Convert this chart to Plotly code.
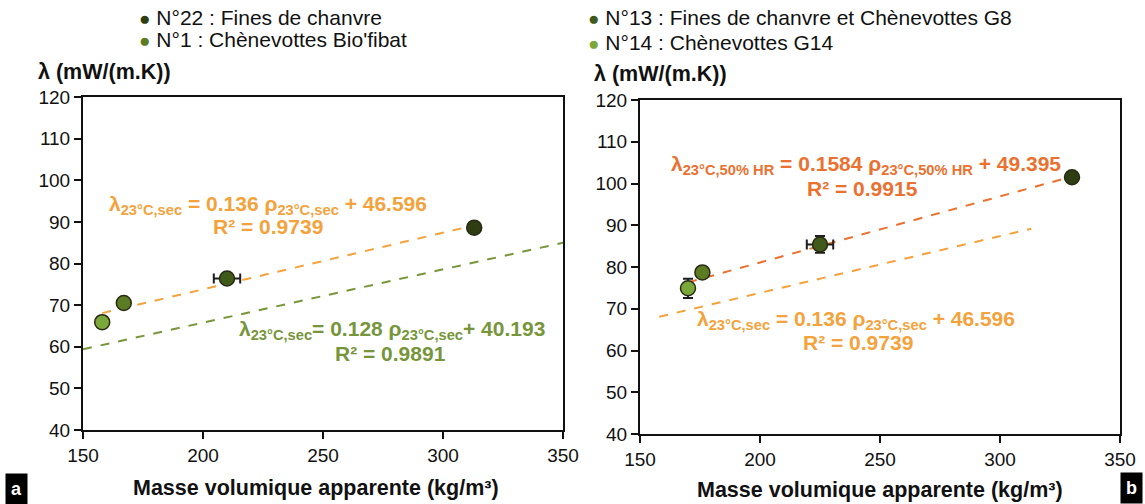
import plotly.graph_objects as go

W, H = 1145, 504

# ---- data ----
samples = ["N°22 : Fines de chanvre", "N°1 : Chènevottes Bio'fibat",
           "N°13 : Fines de chanvre et Chènevottes G8", "N°14 : Chènevottes G14"]
sample_colors = ["#2e3d12", "#5b7c22", "#3f5a19", "#7aa83a"]

# dry state (panel a)
rho_dry = [313, 167, 210, 158]
lam_dry = [88.6, 70.5, 76.4, 65.9]
rho_dry_err = [1.0, 1.0, 5.5, 1.0]
lam_dry_err = [0.5, 0.6, 0.6, 1.3]

# 23°C, 50% HR (panel b)
rho_hr = [330, 176, 225, 170]
lam_hr = [101.5, 78.7, 85.4, 74.9]
rho_hr_err = [1.5, 1.0, 5.5, 1.0]
lam_hr_err = [0.7, 0.8, 2.0, 2.3]

# trend lines (coefficients printed on the chart) and their extents
fit_dry = dict(slope=0.136, intercept=46.596, x=[158, 313])
fit_green = dict(slope=0.128, intercept=40.193, x=[150, 350])
fit_hr = dict(slope=0.1584, intercept=49.395, x=[170, 330])

x_ticks = [150, 200, 250, 300, 350]
y_ticks = [40, 50, 60, 70, 80, 90, 100, 110, 120]

ORANGE_L = "#f4a23c"
ORANGE_D = "#ea7130"
GREEN_T = "#77953a"
FONT = "Liberation Sans, Arial, sans-serif"

def px(x):
    return x / W

def py(y):
    return 1 - y / H

fig = go.Figure()

def line_trace(fit, color, xa, ya):
    xs = fit["x"]
    ys = [fit["slope"] * v + fit["intercept"] for v in xs]
    return go.Scatter(x=xs, y=ys, mode="lines", xaxis=xa, yaxis=ya,
                      line=dict(color=color, width=2, dash="dash"),
                      showlegend=False, hoverinfo="skip")

# panel a lines
fig.add_trace(line_trace(fit_green, GREEN_T, "x", "y"))
fig.add_trace(line_trace(fit_dry, ORANGE_L, "x", "y"))
# panel b lines
fig.add_trace(line_trace(fit_dry, ORANGE_L, "x2", "y2"))
fig.add_trace(line_trace(fit_hr, ORANGE_D, "x2", "y2"))

def pts(i, xs, ys, xe, ye, xa, ya):
    return go.Scatter(
        x=[xs[i]], y=[ys[i]], mode="markers", xaxis=xa, yaxis=ya,
        marker=dict(symbol="circle", size=15, color=sample_colors[i],
                    line=dict(color="#2a2a14", width=1.5)),
        error_x=dict(type="data", array=[xe[i]], color="#1e1e1e", thickness=2, width=5),
        error_y=dict(type="data", array=[ye[i]], color="#1e1e1e", thickness=2, width=5),
        name=samples[i], showlegend=False)

for i in range(4):
    fig.add_trace(pts(i, rho_dry, lam_dry, rho_dry_err, lam_dry_err, "x", "y"))
    fig.add_trace(pts(i, rho_hr, lam_hr, rho_hr_err, lam_hr_err, "x2", "y2"))

axis_common = dict(range=[150, 350], tickvals=x_ticks, showgrid=False, zeroline=False,
                   showline=True, linecolor="#111", linewidth=2, mirror=True,
                   ticks="outside", ticklen=7, tickwidth=2, tickcolor="#111",
                   automargin=False,
                   tickfont=dict(family=FONT, size=19, color="#111"))
yaxis_common = dict(range=[40, 120], tickvals=y_ticks, showgrid=False, zeroline=False,
                    showline=True, linecolor="#111", linewidth=2, mirror=True,
                    ticks="outside", ticklen=7, tickwidth=2, tickcolor="#111",
                    automargin=False,
                    tickfont=dict(family=FONT, size=19, color="#111"))

fig.update_layout(
    width=W, height=H, margin=dict(l=0, r=0, t=0, b=0, autoexpand=False),
    paper_bgcolor="white", plot_bgcolor="white", showlegend=False,
    font=dict(family=FONT, color="#111"),
    xaxis=dict(axis_common, domain=[px(83), px(563)], anchor="y"),
    yaxis=dict(yaxis_common, domain=[py(430), py(97)], anchor="x"),
    xaxis2=dict(axis_common, domain=[px(640), px(1120)], anchor="y2"),
    yaxis2=dict(yaxis_common, domain=[py(434), py(100)], anchor="x2"),
)

anns = []
def ann(text, x, y, size=19, color="#111", bold=False, xanchor="center", **kw):
    if bold:
        text = "<b>" + text + "</b>"
    anns.append(dict(text=text, x=px(x), y=py(y), xref="paper", yref="paper",
                     xanchor=xanchor, yanchor="middle", showarrow=False,
                     font=dict(family=FONT, size=size, color=color), **kw))

# legends
def bullet(i):
    return '<span style="color:%s;font-size:19px">●</span> ' % sample_colors[i]
ann(bullet(0) + samples[0], 137, 18, size=21, xanchor="left")
ann(bullet(1) + samples[1], 137, 40, size=21, xanchor="left")
ann(bullet(2) + samples[2], 586, 18, size=21, xanchor="left")
ann(bullet(3) + samples[3], 586, 42, size=21, xanchor="left")

# axis titles
ann("λ (mW/(m.K))", 36, 72, size=21.5, bold=True, xanchor="left")
ann("λ (mW/(m.K))", 592, 74, size=21.5, bold=True, xanchor="left")
ann("Masse volumique apparente (kg/m³)", 316, 488, size=21.5, bold=True)
ann("Masse volumique apparente (kg/m³)", 880, 490, size=21.5, bold=True)

# equations
ann("λ<sub>23°C,sec</sub> = 0.136 ρ<sub>23°C,sec</sub> + 46.596", 268, 205, size=21, color=ORANGE_L, bold=True)
ann("R² = 0.9739", 268, 227, size=21, color=ORANGE_L, bold=True)
ann("λ<sub>23°C,sec</sub>= 0.128 ρ<sub>23°C,sec</sub>+ 40.193", 392, 330, size=21, color=GREEN_T, bold=True)
ann("R² = 0.9891", 390, 353, size=21, color=GREEN_T, bold=True)
ann("λ<sub>23°C,50% HR</sub> = 0.1584 ρ<sub>23°C,50% HR</sub> + 49.395", 866, 165, size=21, color=ORANGE_D, bold=True)
ann("R² = 0.9915", 862, 188, size=21, color=ORANGE_D, bold=True)
ann("λ<sub>23°C,sec</sub> = 0.136 ρ<sub>23°C,sec</sub> + 46.596", 856, 320, size=21, color=ORANGE_L, bold=True)
ann("R² = 0.9739", 858, 342, size=21, color=ORANGE_L, bold=True)

# panel letters
ann("a", 16, 489, size=18, color="white", bold=True, bgcolor="black", borderpad=5)
ann("b", 1131, 488, size=18, color="white", bold=True, bgcolor="black", borderpad=5)

fig.update_layout(annotations=anns)
fig.write_html("out.html", config={"displayModeBar": False},
               post_script="document.body.style.margin='0';document.body.style.overflow='hidden';")
